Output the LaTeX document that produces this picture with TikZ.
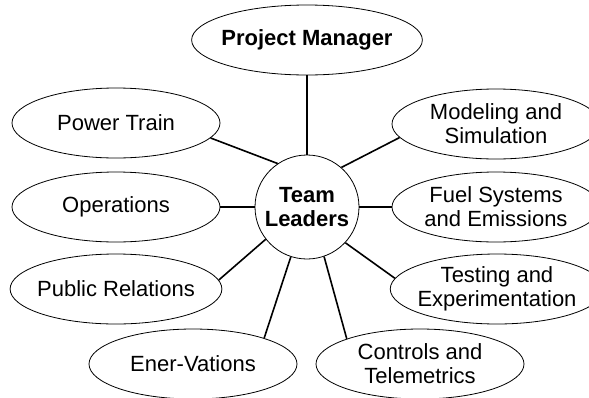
\documentclass[tikz,border=0pt]{standalone}
\usepackage{fontspec}
\setmainfont{Liberation Sans}
\usetikzlibrary{shapes.geometric}

\begin{document}
\begin{tikzpicture}[x=1pt, y=-1pt,
    font=\fontsize{22}{24}\selectfont,
    group/.style = {draw, ellipse, line width=0.8pt, align=center, inner sep=-4pt, minimum width=208pt, minimum height=70pt},
    leader/.style = {draw, circle, line width=0.8pt, align=center, inner sep=0pt, minimum size=104pt},
    link/.style = {line width=1.6pt}]
    \useasboundingbox (0,0) rectangle (589,397);
    \clip (0,0) rectangle (589,397);
    \node[leader] (team) at (307,207) {\bfseries Team\\\bfseries Leaders};
    \node[group] (pm) at (307,40) {\bfseries Project Manager};
    \node[group] (power) at (116,123) {Power Train};
    \node[group] (oper) at (116,207) {Operations};
    \node[group] (pubrel) at (116,289) {Public Relations};
    \node[group] (ener) at (193,364) {Ener-Vations};
    \node[group] (controls) at (420,364) {Controls and\\Telemetrics};
    \node[group] (testing) at (497,289) {Testing and\\Experimentation};
    \node[group] (fuel) at (496,207) {Fuel Systems\\and Emissions};
    \node[group] (model) at (496,124) {Modeling and\\Simulation};
    \draw [link] (pm) -- (team);
    \draw [link] (power.351) -- (team.124);
    \draw [link] (oper) -- (team);
    \draw [link] (pubrel.5) -- (team.218);
    \draw [link] (ener.20) -- (team.252);
    \draw [link] (controls.161) -- (team.289);
    \draw [link] (testing.174) -- (team.317);
    \draw [link] (fuel) -- (team);
    \draw [link] (model.188) -- (team.49);
\end{tikzpicture}
\end{document}
